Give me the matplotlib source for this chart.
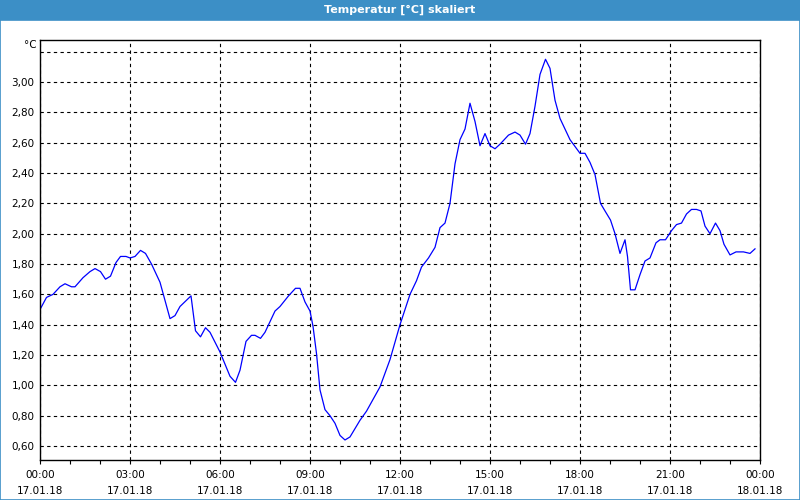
import matplotlib
matplotlib.use("Agg")
import matplotlib.pyplot as plt
from matplotlib.patches import Rectangle

# Minuten seit 17.01.18 00:00 und Temperatur (skaliert)
minuten = [0, 13, 26, 40, 50, 63, 70, 86, 100, 110, 121, 131, 141, 152, 161,
           172, 180, 190, 201, 211, 223, 240, 250, 260, 270, 280, 302, 311,
           321, 331, 340, 360, 380, 391, 400, 412, 423, 430, 441, 450, 470,
           480, 497, 511, 520, 530, 540, 546, 553, 560, 570, 580, 590, 600,
           610, 620, 640, 653, 680, 700, 720, 740, 753, 763, 777, 790, 800,
           810, 820, 830, 840, 850, 860, 870, 880, 890, 900, 910, 920, 937,
           950, 960, 971, 980, 990, 1000, 1011, 1020, 1030, 1040, 1060, 1080,
           1090, 1100, 1110, 1121, 1130, 1141, 1150, 1160, 1170, 1175, 1181,
           1190, 1200, 1210, 1220, 1232, 1240, 1251, 1263, 1273, 1283, 1293,
           1303, 1313, 1322, 1330, 1340, 1351, 1360, 1368, 1380, 1392, 1407,
           1420, 1430]
temperatur = [1.50, 1.58, 1.60, 1.65, 1.67, 1.65, 1.65, 1.71, 1.75, 1.77, 1.75,
              1.70, 1.72, 1.81, 1.85, 1.85, 1.84, 1.85, 1.89, 1.87, 1.80, 1.68,
              1.56, 1.44, 1.46, 1.52, 1.59, 1.36, 1.32, 1.38, 1.35, 1.22, 1.06,
              1.02, 1.10, 1.29, 1.33, 1.33, 1.31, 1.35, 1.49, 1.52, 1.59, 1.64,
              1.64, 1.55, 1.49, 1.39, 1.21, 0.97, 0.84, 0.80, 0.75, 0.67, 0.64,
              0.66, 0.77, 0.83, 0.99, 1.17, 1.40, 1.60, 1.69, 1.78, 1.84, 1.91,
              2.04, 2.07, 2.20, 2.46, 2.62, 2.69, 2.86, 2.74, 2.58, 2.66, 2.58,
              2.56, 2.59, 2.65, 2.67, 2.65, 2.59, 2.66, 2.84, 3.05, 3.15, 3.09,
              2.88, 2.76, 2.62, 2.53, 2.53, 2.47, 2.39, 2.20, 2.15, 2.09, 2.00,
              1.87, 1.96, 1.85, 1.63, 1.63, 1.73, 1.82, 1.84, 1.94, 1.96, 1.96,
              2.02, 2.06, 2.07, 2.13, 2.16, 2.16, 2.15, 2.05, 2.00, 2.07, 2.02,
              1.93, 1.86, 1.88, 1.88, 1.87, 1.90]

x_ticks = [0, 180, 360, 540, 720, 900, 1080, 1260, 1440]
x_labels = ["00:00\n17.01.18", "03:00\n17.01.18", "06:00\n17.01.18",
            "09:00\n17.01.18", "12:00\n17.01.18", "15:00\n17.01.18",
            "18:00\n17.01.18", "21:00\n17.01.18", "00:00\n18.01.18"]
y_ticks = [0.6, 0.8, 1.0, 1.2, 1.4, 1.6, 1.8, 2.0, 2.2, 2.4, 2.6, 2.8, 3.0, 3.2]
y_labels = ["0,60", "0,80", "1,00", "1,20", "1,40", "1,60", "1,80", "2,00",
            "2,20", "2,40", "2,60", "2,80", "3,00", ""]

blau = "#3c8fc6"
fs = 7.5

fig = plt.figure(figsize=(8, 5), dpi=100, facecolor="white")

# Titelleiste und Rahmen
fig.patches.append(Rectangle((0, 0.96), 1, 0.04, transform=fig.transFigure,
                             facecolor=blau, edgecolor="none"))
fig.patches.append(Rectangle((0.0006, 0.001), 0.9988, 0.96, transform=fig.transFigure,
                             facecolor="none", edgecolor=blau, linewidth=1.2))
fig.text(0.5, 0.981, "Temperatur [°C] skaliert", color="white", fontsize=8,
         fontweight="bold", ha="center", va="center")

ax = fig.add_axes([0.05, 0.08, 0.9, 0.84])
ax.plot(minuten, temperatur, color="#0000ff", linewidth=0.9)

ax.set_xlim(0, 1440)
ax.set_ylim(0.508, 3.277)
ax.set_xticks(x_ticks)
ax.set_xticklabels(x_labels, fontsize=fs, linespacing=1.75)
ax.set_xticks(range(0, 1441, 60), minor=True)
ax.set_yticks(y_ticks)
ax.set_yticklabels(y_labels, fontsize=fs)

ax.tick_params(axis="x", which="both", length=3, width=0.8, direction="out", pad=4)
ax.tick_params(axis="y", length=0, pad=4)

ax.grid(True, which="major", color="black", linestyle=(0, (3, 3)), linewidth=0.8)
for s in ax.spines.values():
    s.set_linewidth(1.0)
    s.set_color("black")

ax.text(-0.004, 0.988, "°C", transform=ax.transAxes, fontsize=fs,
        ha="right", va="center")

fig.savefig("out.png", dpi=100, facecolor="white")
